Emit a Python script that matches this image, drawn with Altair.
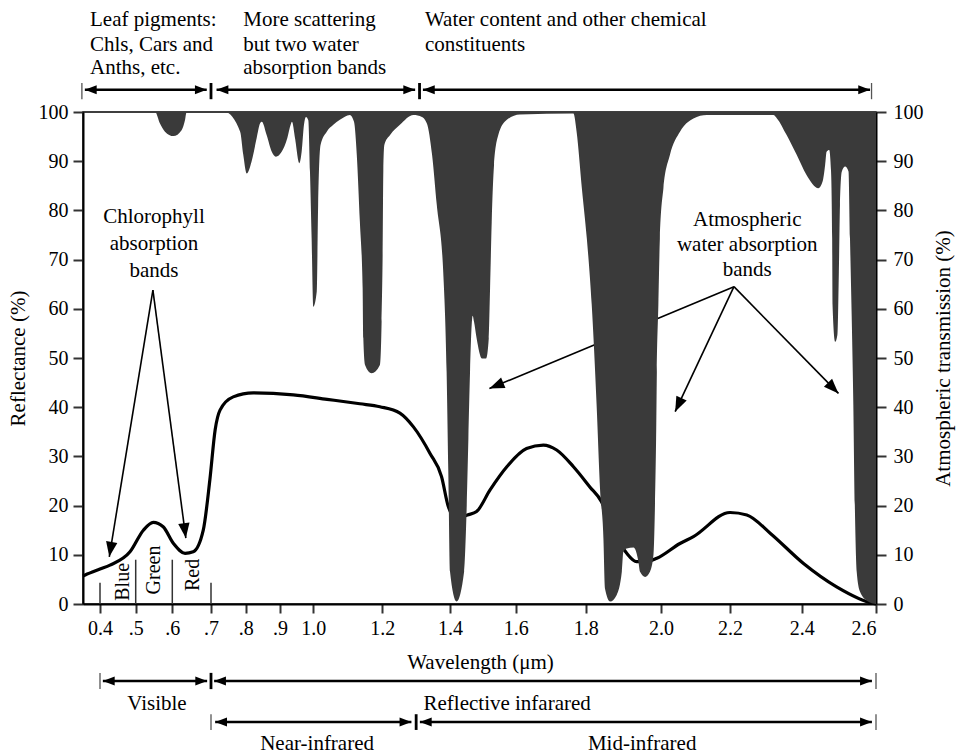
import math
import numpy as np
import pandas as pd
import altair as alt

# ---------------- data ----------------
refl_wl = [0.354, 0.36, 0.4, 0.428, 0.484, 0.521, 0.548, 0.575, 0.603, 0.633, 0.654, 0.68,
           0.697, 0.712, 0.726, 0.764, 0.822, 0.94, 1.04, 1.135, 1.193, 1.252, 1.292, 1.341,
           1.375, 1.395, 1.42, 1.453, 1.481, 1.522, 1.573, 1.631, 1.679, 1.717, 1.765, 1.811,
           1.842, 1.87, 1.909, 1.935, 1.96, 1.989, 2.055, 2.094, 2.2, 2.247, 2.312, 2.404,
           2.494, 2.593, 2.6]
refl_pct = [5.7, 5.9, 7.1, 7.9, 10.6, 15.0, 16.6, 15.7, 12.3, 10.3, 10.6, 15.0,
            25.2, 35.4, 39.4, 42.1, 42.9, 42.5, 41.6, 40.7, 40.1, 38.8, 36.0, 30.6,
            25.9, 19.8, 17.3, 18.1, 18.8, 23.2, 27.9, 31.6, 32.3, 31.3, 27.9, 23.8,
            20.8, 15.5, 10.3, 8.6, 8.6, 9.3, 12.3, 13.7, 18.6, 18.1, 14.4, 8.3,
            3.5, 0.1, 0.0]

trans_wl = [0.354, 0.553, 0.566, 0.58, 0.603, 0.624, 0.633, 0.637, 0.74, 0.784, 0.793, 0.803,
            0.817, 0.832, 0.842, 0.847, 0.861, 0.876, 0.888, 0.905, 0.922, 0.932, 0.936, 0.945,
            0.958, 0.965, 0.972, 0.978, 0.985, 0.99, 0.995, 1.0, 1.01, 1.014, 1.021, 1.039,
            1.058, 1.077, 1.106, 1.118, 1.126, 1.135, 1.143, 1.145, 1.15, 1.169, 1.193, 1.198,
            1.201, 1.203, 1.206, 1.223, 1.252, 1.292, 1.317, 1.332, 1.347, 1.361, 1.38, 1.39,
            1.395, 1.4, 1.42, 1.443, 1.451, 1.456, 1.461, 1.466, 1.469, 1.473, 1.481, 1.497,
            1.51, 1.518, 1.522, 1.527, 1.534, 1.547, 1.573, 1.612, 1.765, 1.774, 1.789, 1.803,
            1.816, 1.829, 1.838, 1.847, 1.851, 1.865, 1.882, 1.896, 1.9, 1.909, 1.927, 1.94,
            1.944, 1.958, 1.971, 1.98, 1.984, 1.987, 1.989, 1.993, 1.997, 2.007, 2.026, 2.055,
            2.094, 2.133, 2.321, 2.331, 2.358, 2.386, 2.413, 2.445, 2.456, 2.463, 2.467, 2.474,
            2.479, 2.482, 2.483, 2.49, 2.496, 2.5, 2.503, 2.508, 2.517, 2.526, 2.53, 2.539,
            2.543, 2.548, 2.557, 2.579, 2.592, 2.6]
trans_pct = [100, 100, 97.7, 96.0, 95.1, 96.3, 98.4, 100, 100, 96.0, 91.3, 87.5,
             89.9, 94.7, 97.7, 98.0, 95.3, 91.9, 90.9, 91.9, 94.7, 97.4, 98.0, 94.7,
             89.6, 91.9, 97.4, 99.0, 98.3, 87.9, 74.3, 60.4, 63.5, 81.1, 93.3, 96.0,
             97.4, 98.4, 99.4, 98.0, 91.3, 77.7, 64.2, 54.0, 48.6, 46.9, 48.6, 57.4,
             70.9, 87.9, 93.3, 95.3, 97.4, 99.4, 99.0, 97.6, 91.3, 81.1, 67.5, 47.2,
             26.9, 6.6, 0.5, 6.6, 20.1, 33.7, 47.2, 56.7, 58.6, 57.4, 54.0, 49.9,
             49.9, 54.0, 64.2, 77.7, 89.2, 95.3, 98.4, 99.5, 99.7, 96.0, 84.5, 74.3,
             60.8, 40.4, 23.5, 13.4, 3.2, 0.5, 1.8, 6.6, 10.6, 11.3, 11.5, 8.6,
             6.6, 5.5, 6.6, 10.0, 20.1, 33.7, 47.2, 60.8, 74.3, 84.5, 91.3, 96.0,
             98.7, 99.4, 99.4, 98.7, 95.3, 91.3, 87.2, 84.5, 85.8, 89.2, 91.9, 92.3,
             87.9, 74.3, 60.8, 53.3, 54.7, 67.5, 81.1, 87.9, 88.9, 87.9, 74.3, 40.4,
             20.1, 6.6, 2.5, 0.5, 0.1, 0.0]

tick_values = [0.4, 0.5, 0.6, 0.7, 0.8, 0.9, 1.0, 1.2, 1.4, 1.6, 1.8, 2.0, 2.2, 2.4, 2.6]
tick_labels = ["0.4", ".5", ".6", ".7", ".8", ".9", "1.0", "1.2", "1.4", "1.6", "1.8",
               "2.0", "2.2", "2.4", "2.6"]
y_ticks = list(range(0, 101, 10))

# colour-band separators (Blue / Green / Red)
sep_wl = [0.4, 0.5, 0.6, 0.7]
sep_top = [4.3, 9.0, 9.0, 4.3]
band_names = ["Blue", "Green", "Red"]
band_wl = [0.464, 0.55, 0.653]
band_y = [4.5, 6.9, 5.9]

# horizontal range arrows: start, end, level
harrow_start = [0.359, 0.716, 1.32, 0.408, 0.709, 0.712, 1.311]
harrow_end = [0.689, 1.297, 2.584, 0.69, 2.589, 1.286, 2.589]
harrow_level = [104.5, 104.5, 104.5, -15.65, -15.65, -24.0, -24.0]
# end bars of the range arrows
bar_wl = [0.351, 0.7, 1.31, 2.588, 0.4, 0.7, 2.6, 0.7, 1.3, 2.6]
bar_lo = [102.6, 102.6, 102.6, 102.6, -14.0, -14.0, -14.0, -22.4, -22.4, -22.4]
bar_hi = [105.9, 105.9, 105.9, 105.9, -17.3, -17.3, -17.3, -25.6, -25.6, -25.6]
bar_thick = [False, True, True, False, False, True, False, False, True, False]

# pointer arrows: from (apex) -> to (tip)
parrow_from_wl = [0.547, 0.547, 2.211, 2.211, 2.211]
parrow_from_v = [63.8, 63.8, 64.5, 64.5, 64.5]
parrow_to_wl = [0.426, 0.635, 1.52, 2.041, 2.499]
parrow_to_v = [9.6, 13.4, 43.8, 39.1, 42.8]

# texts
left_text = ["Leaf pigments:", "Chls, Cars and", "Anths, etc.",
             "More scattering", "but two water", "absorption bands",
             "Water content and other chemical", "constituents"]
left_text_wl = [0.373, 0.373, 0.373, 0.793, 0.793, 0.793, 1.326, 1.326]
left_text_y = [118.7, 113.6, 108.9, 118.7, 113.6, 108.9, 118.7, 113.6]

center_text = ["Chlorophyll", "absorption", "bands",
               "Atmospheric", "water absorption", "bands",
               "Visible", "Reflective infarared", "Near-infrared", "Mid-infrared"]
center_text_wl = [0.55, 0.55, 0.55, 2.248, 2.248, 2.248, 0.558, 1.574, 1.011, 1.95]
center_text_y = [78.7, 73.2, 67.7, 78.0, 73.0, 67.9, -20.3, -20.3, -28.5, -28.5]

# ---------------- scales / layout ----------------
W, H = 793, 492
X_DOMAIN = [0.354, 0.4, 0.5, 0.6, 0.7, 0.8, 0.9, 1.0, 1.2, 1.4, 1.6, 1.8, 2.0, 2.2, 2.4, 2.6]
X_RANGE = [0, 17, 52.7, 89.3, 128, 162.7, 197, 230.3, 299.3, 367, 432.7, 502.7, 578, 647, 718.7, 793]
SERIF = "Liberation Serif"
HEAD = "M0,0L-0.38,1L0.38,1Z"


def px(l):
    return float(np.interp(l, X_DOMAIN, X_RANGE))


def py(v):
    return (100 - v) / 100 * H


def head_angle(l0, v0, l1, v1):
    dx = px(l1) - px(l0)
    dy = py(v1) - py(v0)
    return math.degrees(math.atan2(dx, -dy)) % 360


xs = alt.Scale(domain=X_DOMAIN, range=X_RANGE, nice=False, zero=False)

label_expr = ("[" + ",".join(f"'{s}'" for s in tick_labels) + "][indexof(["
              + ",".join(str(int(round(t * 100))) for t in tick_values)
              + "], round(datum.value*100))]")

X_AXIS = alt.Axis(values=tick_values, labelExpr=label_expr, title="Wavelength (μm)",
                  tickSize=9, labelPadding=5, titleX=397, titleY=58,
                  titleBaseline="middle", titleAlign="center", grid=False)


def ys():
    return alt.Scale(domain=[0, 100], nice=False, zero=False)


def X(field):
    return alt.X(field, type="quantitative", scale=xs, axis=X_AXIS)


def Y(field):
    return alt.Y(field, type="quantitative", scale=ys(), axis=None)


refl_df = pd.DataFrame({"lam": refl_wl, "v": refl_pct})
trans_df = pd.DataFrame({"lam": trans_wl, "v": trans_pct, "top": [100] * len(trans_wl)})

line = alt.Chart(refl_df).mark_line(color="black", strokeWidth=3.2, interpolate="monotone").encode(
    x=X("lam"),
    y=alt.Y("v:Q", scale=ys(),
            axis=alt.Axis(orient="left", values=y_ticks, title="Reflectance (%)", tickSize=10,
                          labelPadding=5, titleX=-65, titleY=246, titleAngle=270,
                          titleAlign="center", titleBaseline="middle", grid=False)),
)

area = alt.Chart(trans_df).mark_area(color="#3a3a3a", interpolate="monotone").encode(
    x=X("lam"),
    y=alt.Y("v:Q", scale=ys(),
            axis=alt.Axis(orient="right", values=y_ticks, title="Atmospheric transmission (%)",
                          tickSize=10, labelPadding=7, titleX=67, titleY=246, titleAngle=270,
                          titleAlign="center", titleBaseline="middle", grid=False)),
    y2="top:Q",
)

# pointer arrows
p_df = pd.DataFrame({"lam": parrow_from_wl, "v0": parrow_from_v,
                     "l1": parrow_to_wl, "v1": parrow_to_v})
p_df["ang"] = [head_angle(a, b, c, d) for a, b, c, d in
               zip(parrow_from_wl, parrow_from_v, parrow_to_wl, parrow_to_v)]
p_lines = alt.Chart(p_df).mark_rule(color="black", strokeWidth=1.6).encode(
    x=X("lam"), x2="l1:Q", y=Y("v0"), y2="v1:Q")
ph_df = pd.DataFrame({"lam": parrow_to_wl, "v": parrow_to_v, "ang": p_df["ang"]})
p_heads = alt.Chart(ph_df).mark_point(shape=HEAD, filled=True, color="black", size=900,
                                      strokeWidth=0, opacity=1).encode(
    x=X("lam"), y=Y("v"), angle=alt.Angle("ang:Q", scale=None))

# horizontal range arrows
h_df = pd.DataFrame({"lam": harrow_start, "l1": harrow_end, "v": harrow_level})
h_lines = alt.Chart(h_df).mark_rule(color="black", strokeWidth=2.5).encode(
    x=X("lam"), x2="l1:Q", y=Y("v"))
hh_rows = []
for a, b, v in zip(harrow_start, harrow_end, harrow_level):
    hh_rows.append({"lam": a, "v": v, "ang": head_angle(b, v, a, v)})
    hh_rows.append({"lam": b, "v": v, "ang": head_angle(a, v, b, v)})
hh_df = pd.DataFrame(hh_rows)
h_heads = alt.Chart(hh_df).mark_point(shape=HEAD, filled=True, color="black", size=560,
                                      strokeWidth=0, opacity=1).encode(
    x=X("lam"), y=Y("v"), angle=alt.Angle("ang:Q", scale=None))

bar_df = pd.DataFrame({"lam": bar_wl, "lo": bar_lo, "hi": bar_hi, "thick": bar_thick})
bars_thin = alt.Chart(bar_df[~bar_df["thick"]]).mark_rule(color="#555", strokeWidth=1.3).encode(
    x=X("lam"), y=Y("lo"), y2="hi:Q")
bars_thick = alt.Chart(bar_df[bar_df["thick"]]).mark_rule(color="black", strokeWidth=2.8).encode(
    x=X("lam"), y=Y("lo"), y2="hi:Q")

sep_df = pd.DataFrame({"lam": sep_wl, "bot": [0] * len(sep_wl), "top": sep_top})
seps = alt.Chart(sep_df).mark_rule(color="#333", strokeWidth=1.5).encode(
    x=X("lam"), y=Y("bot"), y2="top:Q")

band_df = pd.DataFrame({"lam": band_wl, "v": band_y, "t": band_names})
band_txt = alt.Chart(band_df).mark_text(angle=270, align="center", baseline="middle",
                                        font=SERIF, fontSize=20, color="black").encode(
    x=X("lam"), y=Y("v"), text="t:N")

lt_df = pd.DataFrame({"lam": left_text_wl, "v": left_text_y, "t": left_text})
lt = alt.Chart(lt_df).mark_text(align="left", baseline="middle", font=SERIF, fontSize=21,
                                color="black").encode(x=X("lam"), y=Y("v"), text="t:N")
ct_df = pd.DataFrame({"lam": center_text_wl, "v": center_text_y, "t": center_text})
ct = alt.Chart(ct_df).mark_text(align="center", baseline="middle", font=SERIF, fontSize=21,
                                color="black").encode(x=X("lam"), y=Y("v"), text="t:N")

chart = alt.layer(
    line, p_lines, p_heads, area, seps, h_lines, h_heads, bars_thin, bars_thick,
    band_txt, lt, ct
).resolve_scale(y="independent").properties(
    width=W, height=H,
    padding={"left": 83, "top": 112, "right": 81, "bottom": 151},
    autosize=alt.AutoSizeParams(type="none"),
    background="white",
).configure_view(stroke="black", strokeWidth=1.5).configure_axis(
    labelFont=SERIF, titleFont=SERIF, labelFontSize=20, titleFontSize=21,
    labelColor="black", titleColor="black", titleFontWeight="normal",
    domainColor="black", domainWidth=2, tickColor="#333", tickWidth=2,
)

chart.save("out.html", embed_options={"renderer": "svg", "actions": False})
